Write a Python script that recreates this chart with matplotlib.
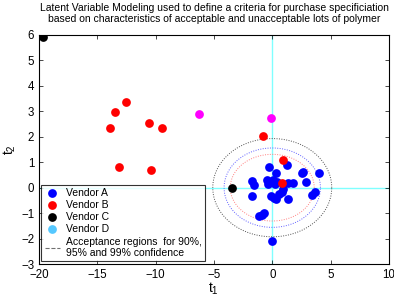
import numpy as np
import matplotlib
matplotlib.use('Agg')
import matplotlib.pyplot as plt
from matplotlib.lines import Line2D

plt.rcParams['font.family'] = ['Liberation Sans', 'DejaVu Sans']

# Vendor A scores
a_t1 = [-0.26, 0.32, 1.24, 2.53, 2.67, 4.02, -1.77, -1.57, -0.48, -0.2, 0.09, 0.38,
        -0.34, 0.23, 1.38, 1.75, 2.9, 0.95, 0.81, 0.6, 3.67, 3.39, -1.77, -0.11,
        0.32, 1.38, 0.15, -0.91, -1.12, -0.71, -0.05]
a_t2 = [0.81, 0.56, 0.91, 0.56, 0.61, 0.56, 0.28, 0.09, 0.3, 0.22, 0.3, 0.22,
        0.13, 0.13, 0.19, 0.19, 0.23, -0.07, -0.18, -0.24, -0.18, -0.27, -0.33, -0.33,
        -0.46, -0.44, -0.4, -1.06, -1.12, -0.99, -2.1]
# Vendor B
b_t1 = [-12.52, -13.5, -13.93, -10.58, -9.46, -13.1, -10.43, -0.77, 0.95, 0.81]
b_t2 = [3.38, 2.98, 2.35, 2.55, 2.35, 0.83, 0.68, 2.05, 1.07, 0.17]
# Vendor C
c_t1 = [-19.66, -3.47]
c_t2 = [5.92, -0.02]
# Vendor D
d_t1 = [-6.27, -0.1]
d_t2 = [2.9, 2.75]

# confidence ellipse half-axes (t1, t2) for 90, 95, 99 %
ell_a = [3.6, 4.13, 5.1]
ell_b = [1.31, 1.56, 1.93]
ell_colors = ['#ff8080', '#6060ff', '#505050']

fig = plt.figure(figsize=(3.94, 2.99), dpi=100)
ax = fig.add_axes([0.099, 0.117, 0.888, 0.766])

ax.axhline(0, color='#80ffff', lw=1, zorder=1)
ax.axvline(0, color='#80ffff', lw=1, zorder=1)

th = np.linspace(0, 2 * np.pi, 300)
for a, b, c in zip(ell_a, ell_b, ell_colors):
    ax.plot(a * np.cos(th), b * np.sin(th), ls=(0, (1, 1.5)), color=c, lw=0.7, zorder=2)

ms = 6.3
ax.plot(a_t1, a_t2, 'o', color='#0000ff', ms=ms, mec='none', zorder=3)
ax.plot(b_t1, b_t2, 'o', color='#ff0000', ms=ms, mec='none', zorder=4)
ax.plot(c_t1, c_t2, 'o', color='black', ms=ms, mec='none', zorder=4)
ax.plot(d_t1, d_t2, 'o', color='#ff00ff', ms=ms, mec='none', zorder=4)

ax.set_xlim(-20, 10)
ax.set_ylim(-3, 6)
ax.set_xticks(np.arange(-20, 11, 5))
ax.set_yticks(np.arange(-3, 7, 1))
ax.set_xticklabels(['\u221220', '\u221215', '\u221210', '\u22125', '0', '5', '10'])
ax.set_yticklabels(['\u22123', '\u22122', '\u22121', '0', '1', '2', '3', '4', '5', '6'])
ax.tick_params(direction='in', top=True, right=True, labelsize=8.3, length=3, width=0.5)
for s in ax.spines.values():
    s.set_linewidth(0.8)

ax.set_xlabel(r'$\mathregular{t_1}$', fontsize=10, labelpad=0)
ax.set_ylabel(r'$\mathregular{t_2}$', fontsize=10, labelpad=2)
ax.set_title('Latent Variable Modeling used to define a criteria for purchase specificiation\n'
             'based on characteristics of acceptable and unacceptable lots of polymer',
             fontsize=7.5, pad=9)

handles = [
    Line2D([], [], marker='o', ls='none', color='#0000ff', mec='none', ms=ms),
    Line2D([], [], marker='o', ls='none', color='#ff0000', mec='none', ms=ms),
    Line2D([], [], marker='o', ls='none', color='black', mec='none', ms=ms),
    Line2D([], [], marker='o', ls='none', color='#55c8ff', mec='none', ms=ms),
    Line2D([], [], ls='--', color='#707070', lw=0.8),
]
labels = ['Vendor A', 'Vendor B', 'Vendor C', 'Vendor D',
          'Acceptance regions  for 90%,\n95% and 99% confidence']
leg = ax.legend(handles, labels, loc='lower left', bbox_to_anchor=(0.007, 0.012),
                fontsize=7.5, frameon=True, fancybox=False, edgecolor='black',
                handlelength=1.5, handletextpad=0.6, labelspacing=0.2,
                borderpad=0.3, borderaxespad=0)
leg.get_frame().set_linewidth(0.8)

fig.savefig('out.png', dpi=100)
